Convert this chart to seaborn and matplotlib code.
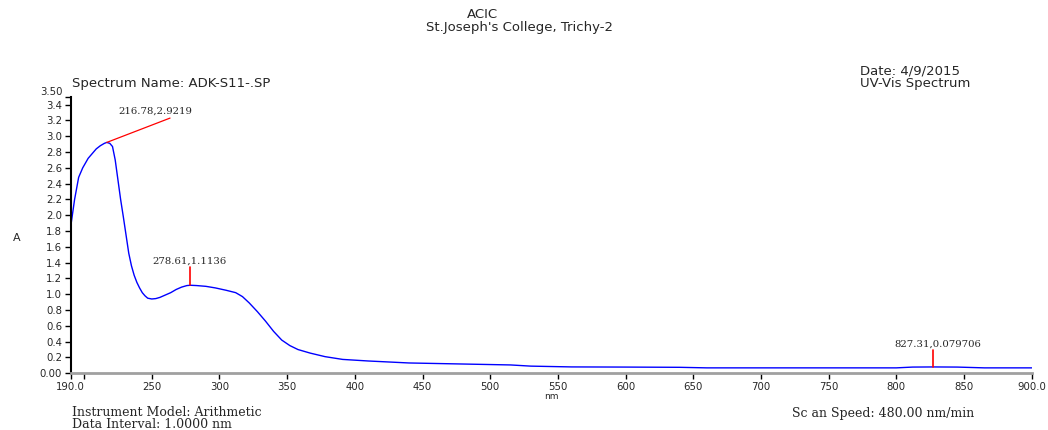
import seaborn as sns
import matplotlib.pyplot as plt
import pandas as pd

# spectrum
wavelength = [190, 193, 196, 199, 203, 206, 209, 212, 215, 216.78, 219, 221, 223, 225,
              227, 229, 231, 233, 235, 237, 239, 241, 243, 245, 247, 250, 253, 256,
              260, 264, 268, 272, 276, 278.61, 283, 290, 297, 305, 312, 317, 322, 328,
              334, 340, 346, 352, 358, 367, 378, 391, 410, 440, 470, 500, 515, 530,
              560, 600, 640, 660, 700, 750, 800, 812, 827.31, 845, 865, 900]
absorbance = [1.84, 2.20, 2.48, 2.60, 2.72, 2.78, 2.84, 2.88, 2.91, 2.9219, 2.91, 2.87, 2.70, 2.45,
              2.20, 1.98, 1.75, 1.52, 1.36, 1.24, 1.15, 1.08, 1.02, 0.98, 0.95, 0.94, 0.945, 0.96,
              0.99, 1.02, 1.06, 1.09, 1.11, 1.1136, 1.11, 1.10, 1.08, 1.05, 1.02, 0.97, 0.89, 0.78,
              0.66, 0.53, 0.42, 0.35, 0.30, 0.255, 0.21, 0.175, 0.155, 0.13, 0.12, 0.11, 0.105, 0.09,
              0.08, 0.078, 0.075, 0.068, 0.068, 0.068, 0.068, 0.078, 0.079706, 0.078, 0.068, 0.068]

# peak picks
peak_x = [216.78, 278.61, 827.31]
peak_y = [2.9219, 1.1136, 0.079706]
peak_labels = ["216.78,2.9219", "278.61,1.1136", "827.31,0.079706"]

xticks = [190, 200, 250, 300, 350, 400, 450, 500, 550, 600, 650, 700, 750, 800, 850, 900]
xticklabels = ["190.0", "", "250", "300", "350", "400", "450", "500", "550", "600",
               "650", "700", "750", "800", "850", "900.0"]
yticks = [0, 0.2, 0.4, 0.6, 0.8, 1.0, 1.2, 1.4, 1.6, 1.8, 2.0, 2.2, 2.4, 2.6, 2.8,
          3.0, 3.2, 3.4, 3.5]
yticklabels = ["0.00"] + ["%.1f" % v for v in yticks[1:-1]] + ["3.50"]

sns.set_style("white")
plt.rcParams['font.family'] = ['DejaVu Sans']

df = pd.DataFrame({"nm": wavelength, "A": absorbance})

fig = plt.figure(figsize=(10.48, 4.30), dpi=100)
ax = fig.add_axes([0.0673, 0.132, 0.9172, 0.643])
sns.lineplot(data=df, x="nm", y="A", color="blue", linewidth=1, ax=ax)

ax.set_xlim(190, 900)
ax.set_ylim(0, 3.5)
ax.set_xticks(xticks)
ax.set_xticklabels(xticklabels, fontsize=7.3)
ax.set_yticks(yticks)
ax.set_yticklabels(yticklabels, fontsize=7.3)
ax.tick_params(axis="both", direction="out", length=4, width=1, color="black", pad=2,
               bottom=True, left=True)
ax.get_yticklabels()[-1].set_va("bottom")
for s in ["top", "right"]:
    ax.spines[s].set_visible(False)
ax.spines["left"].set_color("black")
ax.spines["left"].set_linewidth(1.5)
ax.spines["bottom"].set_color("#a0a0a0")
ax.spines["bottom"].set_linewidth(2)

ax.set_xlabel("nm", fontsize=6.5, labelpad=0)
ax.set_ylabel("A", fontsize=8, rotation=0, va="center")
ax.yaxis.set_label_coords(-0.056, 0.49)

# peak markers
serif = "DejaVu Serif"
ax.plot([peak_x[0], 263.5], [peak_y[0], 3.23], color="red", linewidth=0.9)
ax.text(225, 3.26, peak_labels[0], fontsize=7.3, family=serif, va="bottom")
ax.plot([peak_x[1], peak_x[1]], [peak_y[1], 1.34], color="red", linewidth=1.2)
ax.text(peak_x[1] - 1, 1.36, peak_labels[1], fontsize=7.3, family=serif,
        ha="center", va="bottom")
ax.plot([peak_x[2], peak_x[2]], [peak_y[2], 0.29], color="red", linewidth=1.2)
ax.text(peak_x[2] + 3, 0.31, peak_labels[2], fontsize=7.3, family=serif,
        ha="center", va="bottom")

# header / footer text
fig.text(482 / 1048, 1 - 15 / 430, "ACIC", fontsize=9.5, ha="center", va="center")
fig.text(519 / 1048, 1 - 28 / 430, "St.Joseph's College, Trichy-2", fontsize=9.5,
         ha="center", va="center")
fig.text(72 / 1048, 1 - 83 / 430, "Spectrum Name: ADK-S11-.SP", fontsize=9.5, va="center")
fig.text(860 / 1048, 1 - 71 / 430, "Date: 4/9/2015", fontsize=9.5, va="center")
fig.text(860 / 1048, 1 - 84 / 430, "UV-Vis Spectrum", fontsize=9.5, va="center")
fig.text(72 / 1048, 1 - 413 / 430, "Instrument Model: Arithmetic", fontsize=9,
         family=serif, va="center")
fig.text(72 / 1048, 1 - 425 / 430, "Data Interval: 1.0000 nm", fontsize=9,
         family=serif, va="center")
fig.text(883 / 1048, 1 - 413 / 430, "Sc an Speed: 480.00 nm/min", fontsize=9,
         family=serif, ha="center", va="center")

fig.savefig("out.png", dpi=100)
